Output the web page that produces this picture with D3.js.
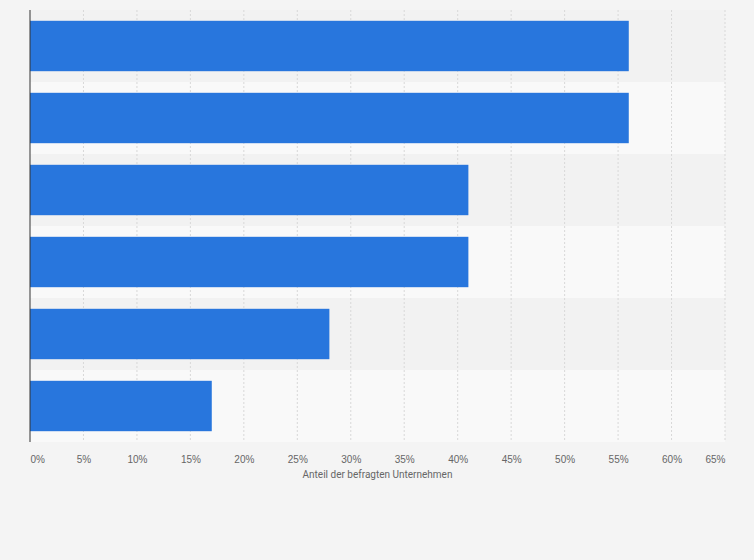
<!DOCTYPE html>
<html>
<head>
<meta charset="utf-8">
<script src="https://cdn.jsdelivr.net/npm/d3@7"></script>
<style>
  body { margin: 0; background: #f4f4f4; }
</style>
</head>
<body>
<div id="chart"></div>
<script>
// Category names are not shown in the picture
const categories = ["A", "B", "C", "D", "E", "F"];
const values = [56, 56, 41, 41, 28, 17];
const ticks = [0, 5, 10, 15, 20, 25, 30, 35, 40, 45, 50, 55, 60, 65];
const axisTitle = "Anteil der befragten Unternehmen";

const width = 754, height = 560;
const marginTop = 10, marginRight = 29, marginBottom = 118, marginLeft = 30;

const svg = d3.select("#chart").append("svg")
    .attr("width", width)
    .attr("height", height)
    .style("font-family", "Roboto, Arial, sans-serif");

svg.append("rect").attr("width", width).attr("height", height).attr("fill", "#f4f4f4");

const x = d3.scaleLinear()
    .domain([0, 65])
    .range([marginLeft, width - marginRight]);

const y = d3.scaleBand()
    .domain(categories)
    .range([marginTop, height - marginBottom])
    .paddingInner(0.3)
    .paddingOuter(0.15);

const band = d3.scaleBand().domain(categories).range([marginTop, height - marginBottom]);

// alternating row backgrounds
svg.append("g").selectAll("rect")
    .data(categories)
    .join("rect")
    .attr("x", marginLeft)
    .attr("y", d => band(d))
    .attr("width", x(65) - marginLeft)
    .attr("height", band.bandwidth())
    .attr("fill", (d, i) => i % 2 ? "#f9f9f9" : "#f2f2f2");

// grid lines
svg.append("g").selectAll("line")
    .data(ticks.slice(1))
    .join("line")
    .attr("x1", d => x(d)).attr("x2", d => x(d))
    .attr("y1", marginTop).attr("y2", height - marginBottom)
    .attr("stroke", "#d8d8d8")
    .attr("stroke-dasharray", "2,2");

// bars
svg.append("g").selectAll("rect")
    .data(values)
    .join("rect")
    .attr("x", x(0))
    .attr("y", (d, i) => y(categories[i]))
    .attr("width", d => x(d) - x(0))
    .attr("height", y.bandwidth())
    .attr("fill", "#2876dd");

// y axis line
svg.append("line")
    .attr("x1", marginLeft).attr("x2", marginLeft)
    .attr("y1", marginTop).attr("y2", height - marginBottom)
    .attr("stroke", "#333");

// x axis labels
svg.append("g")
    .attr("transform", `translate(0,${height - marginBottom})`)
    .call(d3.axisBottom(x).tickValues(ticks).tickFormat(d => d + "%").tickSize(0).tickPadding(14))
    .call(g => g.select(".domain").remove())
    .selectAll(".tick text")
    .attr("fill", "#666")
    .style("font-size", "10px")
    .attr("text-anchor", (d, i) => i === 0 ? "start" : i === ticks.length - 1 ? "end" : "middle");

svg.append("text")
    .attr("x", (marginLeft + width - marginRight) / 2)
    .attr("y", 478)
    .attr("text-anchor", "middle")
    .attr("fill", "#666")
    .style("font-size", "10px")
    .text(axisTitle);
</script>
</body>
</html>
